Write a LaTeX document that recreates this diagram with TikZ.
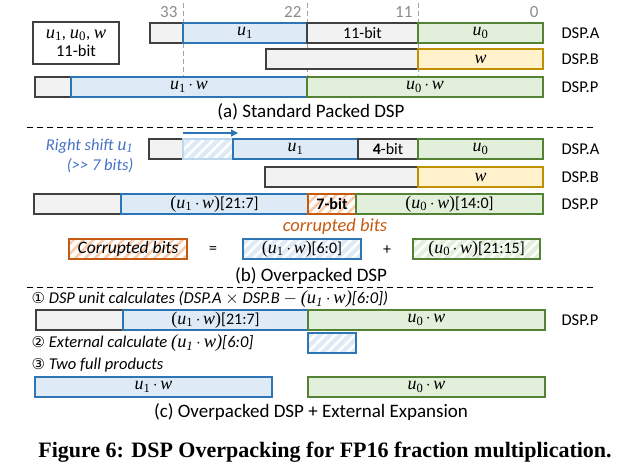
\documentclass[tikz,border=0pt]{standalone}
\usepackage{fontspec}
\setmainfont{Carlito}
\newfontfamily\capfont{Liberation Serif}
\newfontfamily\mfont[Scale=1.12]{Liberation Serif}
\newfontfamily\symfont{DejaVu Sans}
\usetikzlibrary{patterns.meta,arrows.meta}
\definecolor{gfill}{RGB}{242,242,242}
\definecolor{gline}{RGB}{64,64,64}
\definecolor{bfill}{RGB}{222,235,247}
\definecolor{bline}{RGB}{46,117,182}
\definecolor{bpale}{RGB}{189,215,238}
\definecolor{grfill}{RGB}{226,239,218}
\definecolor{grline}{RGB}{84,130,53}
\definecolor{yfill}{RGB}{255,242,204}
\definecolor{yline}{RGB}{191,144,0}
\definecolor{oline}{RGB}{197,90,17}
\definecolor{ostripe}{RGB}{248,203,173}
\definecolor{numgray}{RGB}{140,140,140}
\definecolor{shiftblue}{RGB}{68,114,196}
\newcommand{\vu}[1]{{\mfont\itshape u}\textsubscript{\mfont #1}}
\newcommand{\vw}{{\mfont\itshape w}}
\newcommand{\tdot}{\,$\cdot$\,}
\newcommand{\pu}[1]{{\mfont(}\vu{#1}\tdot\vw{\mfont)}}
\newcommand{\circnum}[1]{{\symfont\fontsize{15}{15}\selectfont #1}}
\tikzset{
  cellbase/.style={draw, line width=1.2pt, inner sep=0pt, outer sep=0pt, font=\fontsize{16}{18}\selectfont},
  gcell/.style={cellbase, fill=gfill, draw=gline},
  bcell/.style={cellbase, fill=bfill, draw=bline},
  grcell/.style={cellbase, fill=grfill, draw=grline},
  ycell/.style={cellbase, fill=yfill, draw=yline},
  hatchb/.style={cellbase, draw=bline, preaction={fill=bfill}, preaction={pattern={Lines[angle=45,distance=7pt,line width=2.5pt]}, pattern color=white}},
  hatchbpale/.style={cellbase, draw=bpale, preaction={fill=bfill}, preaction={pattern={Lines[angle=45,distance=7pt,line width=2.5pt]}, pattern color=white}},
  hatcho/.style={cellbase, draw=oline, preaction={fill=white}, preaction={pattern={Lines[angle=45,distance=7pt,line width=2.5pt]}, pattern color=ostripe}},
  hatchg/.style={cellbase, draw=grline, preaction={fill=grfill}, preaction={pattern={Lines[angle=45,distance=7pt,line width=2.5pt]}, pattern color=white}},
  dsplabel/.style={anchor=west, font=\fontsize{16.5}{18}\selectfont},
  bitnum/.style={anchor=east, text=numgray, font=\fontsize{17}{19}\selectfont},
  bitline/.style={draw=numgray!80, line width=0.9pt, dash pattern=on 5pt off 3pt},
  sep/.style={line width=1pt, dash pattern=on 6pt off 4pt},
  subcap/.style={font=\fontsize{19}{21}\selectfont},
  stepnote/.style={anchor=west, inner sep=0.5pt, font=\fontsize{16.5}{18}\selectfont\itshape},
  plain/.style={font=\fontsize{16}{18}\selectfont},
}
\newcommand{\cellbox}[7]{\node[#6, minimum width={#4-#2}, minimum height={#5-#3}] (#1) at ({(#2+#4)/2},{(#3+#5)/2}) {#7};}
\begin{document}
\begin{tikzpicture}[x=1pt,y=-1pt]
\useasboundingbox (0,0) rectangle (621,472);
% ---------- (a) ----------
\coordinate (l33t) at (183,3); \coordinate (l33b) at (183,77);
\coordinate (l22t) at (307,3); \coordinate (l22b) at (307,77);
\coordinate (l11t) at (418,3); \coordinate (l11b) at (418,77);
\draw[bitline] (l33t) -- (l33b);
\draw[bitline] (l22t) -- (l22b);
\draw[bitline] (l11t) -- (l11b);
\node[bitnum] (n33) at (181,12) {33};
\node[bitnum] (n22) at (305,12) {22};
\node[bitnum] (n11) at (416,12) {11};
\node[bitnum] (n0) at (542,12) {0};
\node[draw=gline, line width=1.6pt, minimum width=86pt, minimum height=42pt, align=center, inner sep=0pt, font=\fontsize{16.5}{19}\selectfont] (key) at (76,43) {\vu{1}, \vu{0}, \vw\\[-1pt]11-bit};
\cellbox{aAg}{150}{23}{183}{43}{gcell}{}
\cellbox{aAu1}{183}{23}{307}{43}{bcell}{\vu{1}}
\cellbox{aAbit}{307}{23}{418}{43}{gcell}{11-bit}
\cellbox{aAu0}{418}{23}{543}{43}{grcell}{\vu{0}}
\cellbox{aBg}{266}{49}{418}{69}{gcell}{}
\cellbox{aBw}{418}{49}{543}{69}{ycell}{\vw}
\cellbox{aPg}{35}{77}{71}{97}{gcell}{}
\cellbox{aPu1}{71}{77}{307}{97}{bcell}{\vu{1}\tdot\vw}
\cellbox{aPu0}{307}{77}{543}{97}{grcell}{\vu{0}\tdot\vw}
\node[dsplabel] (aLA) at (558,33) {DSP.A};
\node[dsplabel] (aLB) at (558,59) {DSP.B};
\node[dsplabel] (aLP) at (558,87) {DSP.P};
\node[subcap] (capa) at (311,112) {(a) Standard Packed DSP};
\coordinate (s1l) at (27,127); \coordinate (s1r) at (593,127);
\draw[sep] (s1l) -- (s1r);
% ---------- (b) ----------
\coordinate (arrs) at (183,133); \coordinate (arre) at (238,133);
\draw[draw=bline, line width=1.2pt, -{Triangle[length=7pt,width=7pt]}] (arrs) -- (arre);
\node[anchor=east, text=shiftblue, font=\fontsize{16.5}{18}\selectfont\itshape] (rs1) at (137,146) {Right shift \vu{1}};
\node[anchor=east, text=shiftblue, font=\fontsize{16.5}{18}\selectfont\itshape] (rs2) at (137,166) {(>{}> 7 bits)};
\cellbox{bAg}{149}{139}{183}{159}{gcell}{}
\cellbox{bAh}{183}{139}{233}{159}{hatchbpale}{}
\cellbox{bAu1}{233}{139}{358}{159}{bcell}{\vu{1}}
\cellbox{bAbit}{358}{139}{418}{159}{gcell}{\textbf{4}-bit}
\cellbox{bAu0}{418}{139}{543}{159}{grcell}{\vu{0}}
\cellbox{bBg}{265}{167}{418}{187}{gcell}{}
\cellbox{bBw}{418}{167}{543}{187}{ycell}{\vw}
\cellbox{bPg}{34}{194}{121}{214}{gcell}{}
\cellbox{bPu1}{121}{194}{308}{214}{bcell}{\pu{1}[21:7]}
\cellbox{bPc}{308}{194}{356}{214}{hatcho}{\textbf{7-bit}}
\cellbox{bPu0}{356}{194}{543}{214}{grcell}{\pu{0}[14:0]}
\node[dsplabel] (bLA) at (558,149) {DSP.A};
\node[dsplabel] (bLB) at (558,177) {DSP.B};
\node[dsplabel] (bLP) at (558,204) {DSP.P};
\node[text=oline, font=\fontsize{18.5}{20}\selectfont\itshape] (corr) at (335,227) {corrupted bits};
\cellbox{legc}{69}{239}{187}{259}{hatcho}{\fontsize{17.5}{19}\selectfont\itshape Corrupted bits}
\node[plain] (eq) at (213,250) {=};
\cellbox{legb}{243}{239}{361}{259}{hatchb}{\pu{1}[6:0]}
\node[plain] (plus) at (387,250) {+};
\cellbox{legg}{413}{239}{540}{259}{hatchg}{\pu{0}[21:15]}
\node[subcap] (capb) at (311,276) {(b) Overpacked DSP};
\coordinate (s2l) at (27,287); \coordinate (s2r) at (593,287);
\draw[sep] (s2l) -- (s2r);
% ---------- (c) ----------
\node[stepnote] (st1) at (31,299) {\circnum{①} DSP unit calculates (DSP.A $\times$ DSP.B $-$ \pu{1}[6:0])};
\cellbox{cPg}{36}{310}{123}{330}{gcell}{}
\cellbox{cPu1}{123}{310}{308}{330}{bcell}{\pu{1}[21:7]}
\cellbox{cPu0}{308}{310}{545}{330}{grcell}{\vu{0}\tdot\vw}
\node[dsplabel] (cLP) at (558,320) {DSP.P};
\node[stepnote] (st2) at (31,343) {\circnum{②} External calculate \pu{1}[6:0]};
\cellbox{cH}{308}{333}{356}{353}{hatchb}{}
\node[stepnote] (st3) at (31,365) {\circnum{③} Two full products};
\cellbox{cFu1}{35}{377}{272}{397}{bcell}{\vu{1}\tdot\vw}
\cellbox{cFu0}{308}{377}{545}{397}{grcell}{\vu{0}\tdot\vw}
\node[subcap] (capc) at (311,412) {(c) Overpacked DSP + External Expansion};
\node[font=\capfont\bfseries\fontsize{22}{24}\selectfont] (fig) at (325,452) {Figure 6: DSP Overpacking for FP16 fraction multiplication.};
\end{tikzpicture}
\end{document}
